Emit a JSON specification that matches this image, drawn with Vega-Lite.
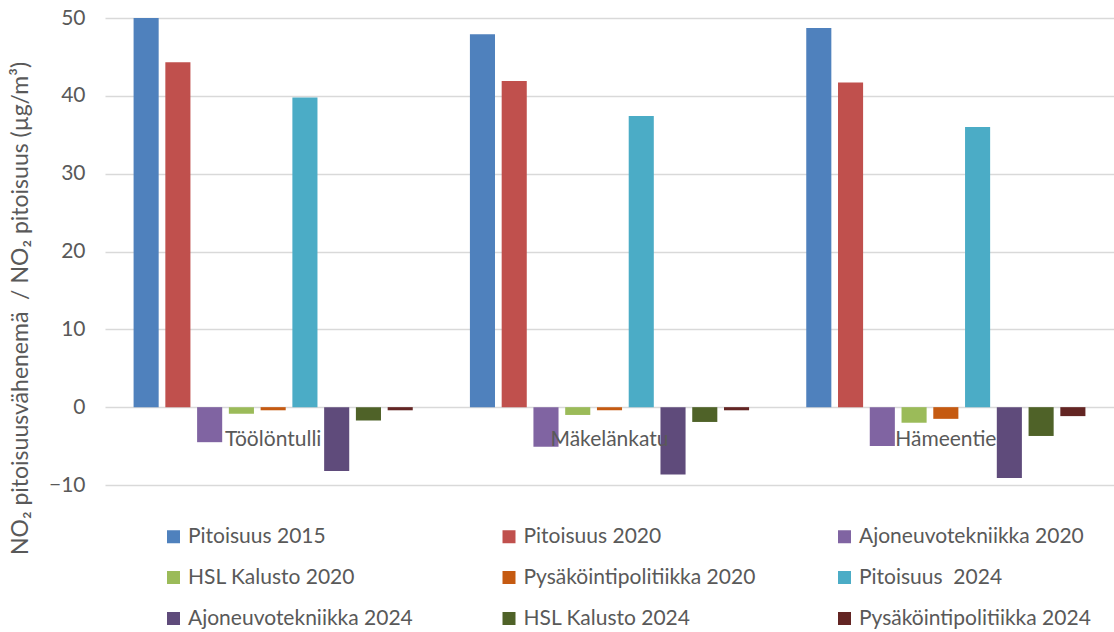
{
  "$schema": "https://vega.github.io/schema/vega-lite/v6.json",
  "width": 1009,
  "height": 467,
  "autosize": {"type": "none"},
  "padding": {"left": 105, "top": 18, "right": 0, "bottom": 147},
  "background": "white",
  "config": {
    "view": {"stroke": null},
    "font": "Lato"
  },
  "data": {
    "values": [
      {"paikka": "Töölöntulli", "sarja": "Pitoisuus 2015", "arvo": 50.0},
      {"paikka": "Töölöntulli", "sarja": "Pitoisuus 2020", "arvo": 44.3},
      {"paikka": "Töölöntulli", "sarja": "Ajoneuvotekniikka 2020", "arvo": -4.5},
      {"paikka": "Töölöntulli", "sarja": "HSL Kalusto 2020", "arvo": -0.85},
      {"paikka": "Töölöntulli", "sarja": "Pysäköintipolitiikka 2020", "arvo": -0.4},
      {"paikka": "Töölöntulli", "sarja": "Pitoisuus\u00a0 2024", "arvo": 39.8},
      {"paikka": "Töölöntulli", "sarja": "Ajoneuvotekniikka 2024", "arvo": -8.2},
      {"paikka": "Töölöntulli", "sarja": "HSL Kalusto 2024", "arvo": -1.7},
      {"paikka": "Töölöntulli", "sarja": "Pysäköintipolitiikka 2024", "arvo": -0.4},
      {"paikka": "Mäkelänkatu", "sarja": "Pitoisuus 2015", "arvo": 47.9},
      {"paikka": "Mäkelänkatu", "sarja": "Pitoisuus 2020", "arvo": 41.9},
      {"paikka": "Mäkelänkatu", "sarja": "Ajoneuvotekniikka 2020", "arvo": -5.1},
      {"paikka": "Mäkelänkatu", "sarja": "HSL Kalusto 2020", "arvo": -1.0},
      {"paikka": "Mäkelänkatu", "sarja": "Pysäköintipolitiikka 2020", "arvo": -0.4},
      {"paikka": "Mäkelänkatu", "sarja": "Pitoisuus\u00a0 2024", "arvo": 37.4},
      {"paikka": "Mäkelänkatu", "sarja": "Ajoneuvotekniikka 2024", "arvo": -8.65},
      {"paikka": "Mäkelänkatu", "sarja": "HSL Kalusto 2024", "arvo": -1.9},
      {"paikka": "Mäkelänkatu", "sarja": "Pysäköintipolitiikka 2024", "arvo": -0.4},
      {"paikka": "Hämeentie", "sarja": "Pitoisuus 2015", "arvo": 48.7},
      {"paikka": "Hämeentie", "sarja": "Pitoisuus 2020", "arvo": 41.7},
      {"paikka": "Hämeentie", "sarja": "Ajoneuvotekniikka 2020", "arvo": -5.0},
      {"paikka": "Hämeentie", "sarja": "HSL Kalusto 2020", "arvo": -2.0},
      {"paikka": "Hämeentie", "sarja": "Pysäköintipolitiikka 2020", "arvo": -1.5},
      {"paikka": "Hämeentie", "sarja": "Pitoisuus\u00a0 2024", "arvo": 36.0},
      {"paikka": "Hämeentie", "sarja": "Ajoneuvotekniikka 2024", "arvo": -9.1},
      {"paikka": "Hämeentie", "sarja": "HSL Kalusto 2024", "arvo": -3.7},
      {"paikka": "Hämeentie", "sarja": "Pysäköintipolitiikka 2024", "arvo": -1.15}
    ]
  },
  "mark": {"type": "bar"},
  "encoding": {
    "x": {
      "field": "paikka",
      "type": "nominal",
      "sort": ["Töölöntulli", "Mäkelänkatu", "Hämeentie"],
      "scale": {"paddingInner": 0, "paddingOuter": 0},
      "axis": {
        "title": null,
        "orient": "bottom",
        "offset": -77.8,
        "domain": false,
        "ticks": false,
        "labelAngle": 0,
        "labelPadding": 21,
        "labelFontSize": 21,
        "labelColor": "#595959",
        "labelFont": "Lato",
        "zindex": 1
      }
    },
    "xOffset": {
      "field": "sarja",
      "type": "nominal",
      "sort": ["Pitoisuus 2015", "Pitoisuus 2020", "Ajoneuvotekniikka 2020", "HSL Kalusto 2020", "Pysäköintipolitiikka 2020", "Pitoisuus\u00a0 2024", "Ajoneuvotekniikka 2024", "HSL Kalusto 2024", "Pysäköintipolitiikka 2024"],
      "scale": {"paddingInner": 0.21, "paddingOuter": 0.9}
    },
    "y": {
      "field": "arvo",
      "type": "quantitative",
      "scale": {"domain": [-10, 50], "nice": false, "zero": false},
      "axis": {
        "values": [-10, 0, 10, 20, 30, 40, 50],
        "grid": true,
        "gridColor": "#d9d9d9",
        "gridWidth": 1.3,
        "domain": false,
        "ticks": false,
        "labelPadding": 20,
        "labelFontSize": 21,
        "labelColor": "#595959",
        "labelFont": "Lato",
        "title": "NO₂ pitoisuusvähenemä\u00a0 / NO₂ pitoisuus (µg/m³)",
        "titleFontSize": 23,
        "titleFontWeight": "normal",
        "titleColor": "#595959",
        "titleFont": "Lato",
        "titleX": -85,
        "titleY": 290,
        "titleBaseline": "middle",
        "titleAlign": "center",
        "titleAngle": -90
      }
    },
    "color": {
      "field": "sarja",
      "type": "nominal",
      "scale": {
        "domain": ["Pitoisuus 2015", "Pitoisuus 2020", "Ajoneuvotekniikka 2020", "HSL Kalusto 2020", "Pysäköintipolitiikka 2020", "Pitoisuus\u00a0 2024", "Ajoneuvotekniikka 2024", "HSL Kalusto 2024", "Pysäköintipolitiikka 2024"],
        "range": ["#4F81BD", "#C0504D", "#8064A2", "#9BBB59", "#C55A11", "#4BACC6", "#5F4B7B", "#4F6228", "#632523"]
      },
      "legend": {
        "title": null,
        "orient": "none",
        "direction": "horizontal",
        "legendX": 58,
        "legendY": 508,
        "columns": 3,
        "gridAlign": "all",
        "columnPadding": 78.5,
        "rowPadding": 19,
        "padding": 0,
        "symbolType": "square",
        "symbolSize": 169,
        "symbolStrokeWidth": 0,
        "symbolOpacity": 1,
        "labelFontSize": 21,
        "labelFont": "Lato",
        "labelColor": "#595959",
        "labelOffset": 4,
        "labelLimit": 400
      }
    }
  }
}
